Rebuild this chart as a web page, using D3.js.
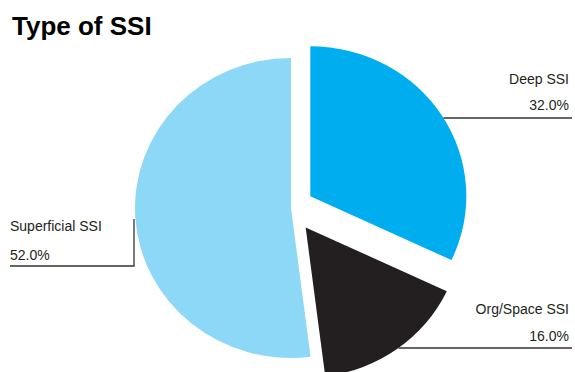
<!DOCTYPE html>
<html>
<head>
<meta charset="utf-8">
<script src="https://cdn.jsdelivr.net/npm/d3@7"></script>
<style>
  body { margin: 0; background: #fff; }
  text { font-family: "Liberation Sans", Arial, sans-serif; fill: #231f20; }
</style>
</head>
<body>
<div id="container"></div>
<script>
// data
const categories = ["Deep SSI", "Org/Space SSI", "Superficial SSI"];
const values = [32.0, 16.0, 52.0];
const pctLabels = ["32.0%", "16.0%", "52.0%"];

const w = 575;
const h = 372;
const colors = ["#00aeef", "#231f20", "#8dd7f7"];
const explode = [22, 24, 0];
const cx = 291, cy = 208;
const r = 150;
const sx = 1.04; // the pie is a little wider than tall
const fs = "14px";

const svg = d3.select("#container").append("svg")
  .attr("width", w).attr("height", h);

svg.append("text")
  .attr("x", 12).attr("y", 35)
  .style("font-size", "26px").style("font-weight", "bold")
  .style("fill", "#000")
  .text("Type of SSI");

const pie = d3.pie().sort(null).value(d => d)(values);
const arc = d3.arc().innerRadius(0).outerRadius(r);

const g = svg.append("g")
  .attr("transform", "translate(" + cx + "," + cy + ") scale(" + sx + ",1)");

// offset of each slice along its middle angle
const offs = pie.map((p, i) => {
  const a = (p.startAngle + p.endAngle) / 2;
  return [explode[i] * Math.sin(a), -explode[i] * Math.cos(a)];
});

g.selectAll("path").data(pie).enter().append("path")
  .attr("d", arc)
  .attr("fill", (d, i) => colors[i])
  .attr("transform", (d, i) => "translate(" + offs[i][0] + "," + offs[i][1] + ")");

// x on the pie outline at a given screen y (right side), for a slice
function edgeX(i, y) {
  const ox = cx + offs[i][0] * sx, oy = cy + offs[i][1];
  const dy = (y - oy) / r;
  return ox + r * sx * Math.sqrt(Math.max(0, 1 - dy * dy));
}

const lineColor = "#333";

// Deep SSI label (right, top)
const yDeep = 118;
svg.append("line")
  .attr("x1", edgeX(0, yDeep)).attr("x2", 572)
  .attr("y1", yDeep).attr("y2", yDeep)
  .attr("stroke", lineColor).attr("stroke-width", 1.3);
svg.append("text").attr("x", 569).attr("y", 84).attr("text-anchor", "end")
  .style("font-size", fs).text(categories[0]);
svg.append("text").attr("x", 569).attr("y", 110).attr("text-anchor", "end")
  .style("font-size", fs).text(pctLabels[0]);

// Org/Space SSI label (right, bottom)
const yOrg = 348;
svg.append("line")
  .attr("x1", edgeX(1, yOrg)).attr("x2", 572)
  .attr("y1", yOrg).attr("y2", yOrg)
  .attr("stroke", lineColor).attr("stroke-width", 1.3);
svg.append("text").attr("x", 569).attr("y", 314).attr("text-anchor", "end")
  .style("font-size", fs).text(categories[1]);
svg.append("text").attr("x", 569).attr("y", 341).attr("text-anchor", "end")
  .style("font-size", fs).text(pctLabels[1]);

// Superficial SSI label (left)
const ySup = 266;
const xSup = cx + offs[2][0] * sx - r * sx - 1;
svg.append("path")
  .attr("d", "M" + xSup + "," + 219 + " L" + xSup + "," + ySup + " L" + 10 + "," + ySup)
  .attr("fill", "none")
  .attr("stroke", lineColor).attr("stroke-width", 1.3);
svg.append("text").attr("x", 10).attr("y", 231)
  .style("font-size", fs).text(categories[2]);
svg.append("text").attr("x", 10).attr("y", 260)
  .style("font-size", fs).text(pctLabels[2]);
</script>
</body>
</html>
